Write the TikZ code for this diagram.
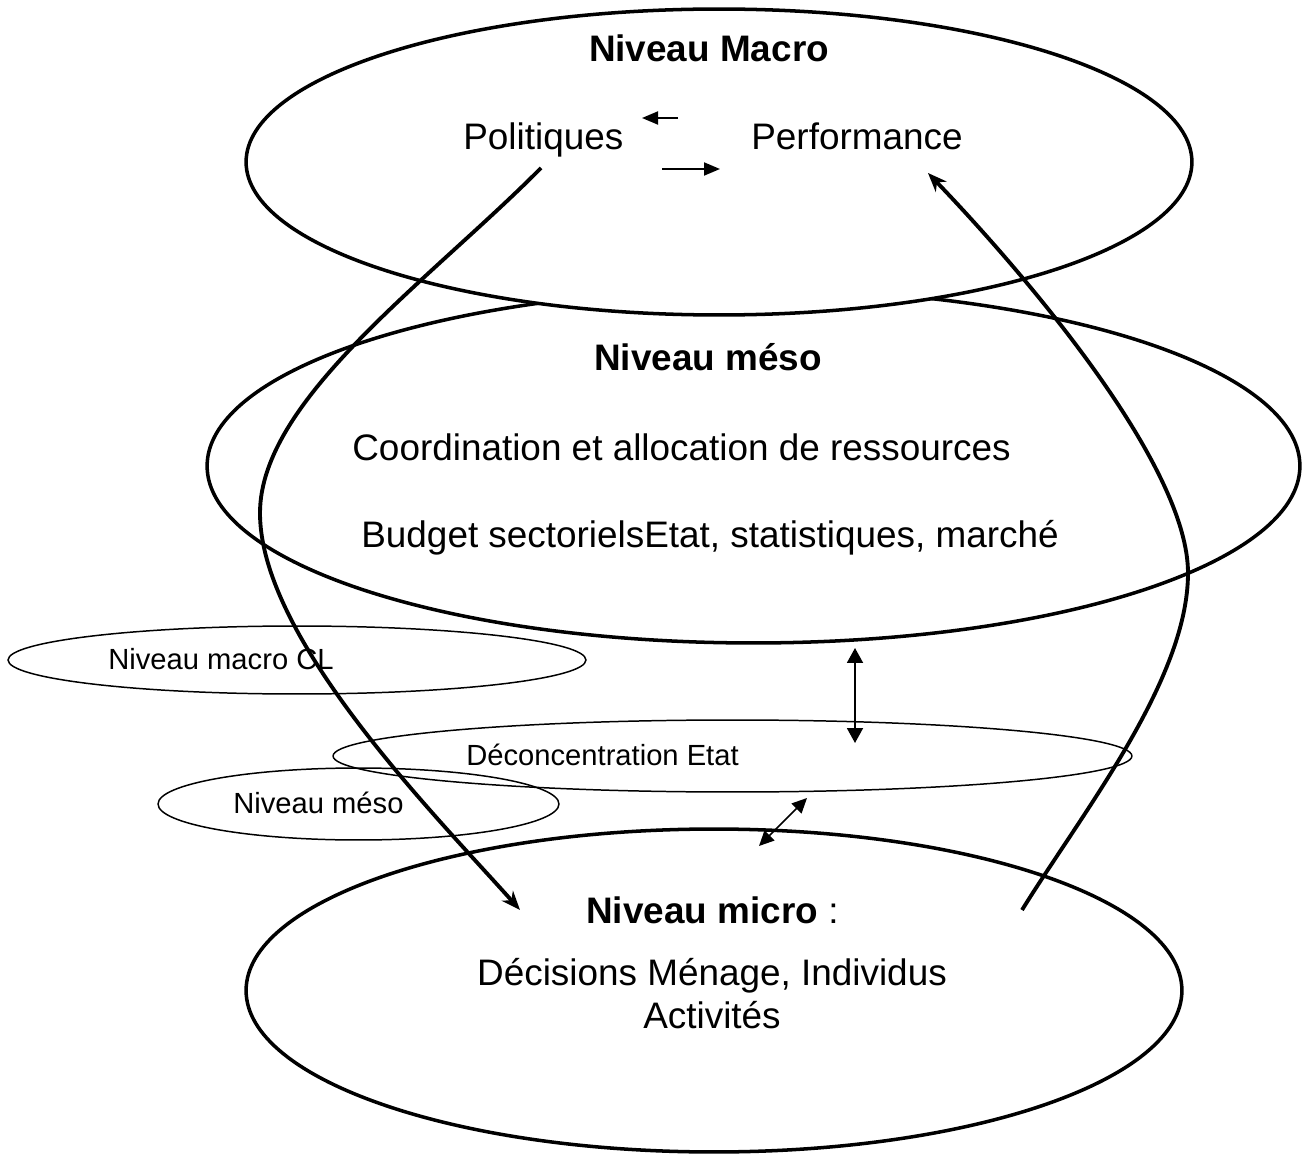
\documentclass[tikz,border=0pt]{standalone}
\usepackage{fontspec}
\setmainfont{Liberation Sans}
\usetikzlibrary{shapes.geometric,arrows.meta}
\begin{document}
\begin{tikzpicture}[x=0.02cm,y=-0.02cm,
  bigell/.style={draw, ellipse, line width=2pt, inner sep=0pt},
  smallell/.style={draw, ellipse, line width=0.85pt, inner sep=0pt},
  bigtxt/.style={inner sep=0pt, font=\fontsize{21}{25}\selectfont},
  boldtxt/.style={inner sep=0pt, font=\fontsize{21}{25}\selectfont\bfseries},
  smalltxt/.style={inner sep=0pt, font=\fontsize{16.6}{20}\selectfont},
  longarrow/.style={line width=2.2pt, -{Stealth[length=0.38cm,width=0.3cm,inset=0.12cm]}},
  smallarrow/.style={line width=1.1pt, -{Triangle[length=0.32cm,width=0.26cm]}},
  dblarrow/.style={line width=1.1pt, {Triangle[length=0.3cm,width=0.32cm]}-{Triangle[length=0.3cm,width=0.32cm]}},
  dblarrowthin/.style={line width=0.9pt, {Triangle[length=0.3cm,width=0.28cm]}-{Triangle[length=0.3cm,width=0.28cm]}}
]
\fill[white] (0,0) rectangle (1302,1155);
\useasboundingbox (0,0) rectangle (1302,1155);

% ellipses
\node[bigell, minimum width=21.86cm, minimum height=7.08cm] (meso) at (753.5,466) {};
\node[bigell, fill=white, minimum width=18.92cm, minimum height=6.12cm] (macro) at (719,162) {};
\node[bigell, minimum width=18.72cm, minimum height=6.46cm] (micro) at (714,990.5) {};
\node[smallell, minimum width=11.56cm, minimum height=1.36cm] (macrocl) at (297,660) {};
\node[smallell, minimum width=15.98cm, minimum height=1.44cm] (decon) at (732.5,756) {};
\node[smallell, minimum width=8.02cm, minimum height=1.44cm] (mesosmall) at (358.5,804) {};

% texts
\node[boldtxt, anchor=base] (tmacro) at (709,62) {Niveau Macro};
\node[bigtxt, anchor=base west] (tpol) at (463,150) {Politiques};
\node[bigtxt, anchor=base west] (tperf) at (751,150) {Performance};
\node[boldtxt, anchor=base] (tmeso) at (708,371) {Niveau méso};
\node[bigtxt, anchor=base west] (tcoord) at (352,460) {Coordination et allocation de ressources};
\node[bigtxt, anchor=base west] (tbudget) at (361,547) {Budget sectorielsEtat, statistiques, marché};
\node[smalltxt, anchor=base west] (tcl) at (108,669) {Niveau macro CL};
\node[smalltxt, anchor=base west] (tdec) at (466,765) {Déconcentration Etat};
\node[smalltxt, anchor=base west] (tmesos) at (233,813) {Niveau méso};
\node[bigtxt, anchor=base west] (tmicro) at (586,923) {{\bfseries Niveau micro} :};
\node[bigtxt, anchor=base] (tdecis) at (712,985) {Décisions Ménage, Individus};
\node[bigtxt, anchor=base] (tact) at (712,1028) {Activités};

% small arrows between Politiques and Performance
\coordinate (la1) at (678,118);
\coordinate (la2) at (642,118);
\coordinate (ra1) at (662,169);
\coordinate (ra2) at (720,169);
\draw[smallarrow] (la1) -- (la2);
\draw[smallarrow] (ra1) -- (ra2);

% double arrows
\coordinate (v1) at (855,648);
\coordinate (v2) at (855,743);
\draw[dblarrow] (v1) -- (v2);
\coordinate (d1) at (807,798);
\coordinate (d2) at (759,846);
\draw[dblarrowthin] (d1) -- (d2);

% long curves
\coordinate (ls) at (541,168);
\coordinate (lm) at (260,513);
\coordinate (le) at (520,910);
\draw[longarrow] (ls) .. controls (430,280) and (260,400) .. (lm)
                      .. controls (260,640) and (440,820) .. (le);
\coordinate (rs) at (1022,910);
\coordinate (rm) at (1188,573);
\coordinate (re) at (928,173);
\draw[longarrow] (rs) .. controls (1082,813) and (1188,680) .. (rm)
                      .. controls (1188,470) and (1040,290) .. (re);
\end{tikzpicture}
\end{document}
